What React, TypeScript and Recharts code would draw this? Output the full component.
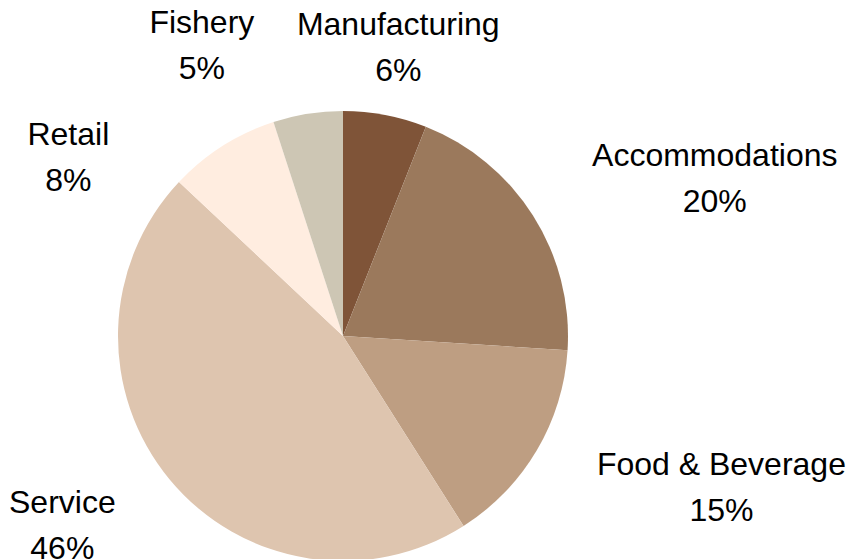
import { Cell, Pie, PieChart } from "recharts";

const sectors = ["Manufacturing", "Accommodations", "Food & Beverage", "Service", "Retail", "Fishery"];
const shares = [6, 20, 15, 46, 8, 5];
const sectorColors = ["#7F5438", "#9B795C", "#BE9E82", "#DEC5AF", "#FFEDE0", "#CDC6B4"];

const data = sectors.map((name, i) => ({ name, value: shares[i] }));

const W = 852;
const H = 559;
const CX = 343;
const CY = 336;
const RADIUS = 225;
const FONT = "'Liberation Sans', Arial, sans-serif";
const FONT_SIZE = 32;
const LABEL_R = 295;
const GAP = 42;
const BOX_H = 69;

function textWidth(s: string) {
  try {
    const ctx = document.createElement("canvas").getContext("2d");
    if (ctx) {
      ctx.font = `${FONT_SIZE}px ${FONT}`;
      return ctx.measureText(s).width;
    }
  } catch (e) {}
  return s.length * FONT_SIZE * 0.55;
}

type Box = { x: number; y: number; w: number };

// excel-ish outside-end labels, nudged apart when they collide
function layoutLabels(): Box[] {
  const total = shares.reduce((a, b) => a + b, 0);
  let acc = 0;
  const items = shares.map((v, i) => {
    let mid = ((acc + v / 2) / total) * 360;
    acc += v;
    if (mid > 180) mid -= 360;
    const w = Math.max(textWidth(sectors[i]), textWidth(`${v}%`));
    return { i, theta: mid, w };
  });

  const place = (theta: number, w: number) => {
    const rad = (theta * Math.PI) / 180;
    const ux = Math.sin(rad);
    const uy = -Math.cos(rad);
    const g = Math.min(1, Math.max(0, (Math.abs(ux) - 0.2) / 0.35));
    return { x: CX + LABEL_R * ux + Math.sign(ux) * g * (w / 2), y: CY + LABEL_R * uy, w, ux };
  };

  const hits = (a: Box, b: Box) =>
    Math.abs(a.x - b.x) < (a.w + b.w) / 2 + GAP && Math.abs(a.y - b.y) < BOX_H + GAP;

  const order = [
    ...items.filter((d) => d.theta >= 0).sort((a, b) => a.theta - b.theta),
    ...items.filter((d) => d.theta < 0).sort((a, b) => b.theta - a.theta),
  ];

  const placed: Box[] = [];
  const out: Box[] = new Array(items.length);
  for (const it of order) {
    let p = place(it.theta, it.w);
    const dir = it.theta < 0 ? -1 : 1;
    if (Math.abs(p.ux) < 0.3) {
      // near the top: slide sideways
      let guard = 0;
      while (placed.some((q) => hits(p, q)) && guard++ < 600) p = { ...p, x: p.x + dir };
    } else {
      // on the sides: walk round the pie
      let t = it.theta;
      let guard = 0;
      while (placed.some((q) => hits(p, q)) && guard++ < 400) {
        t += dir * 0.5;
        p = place(t, it.w);
      }
    }
    placed.push(p);
    out[it.i] = p;
  }
  return out;
}

export default function App() {
  const boxes = layoutLabels();

  const renderLabel = (props: any) => {
    const b = boxes[props.index];
    if (!b) return null;
    return (
      <text
        key={`lbl-${props.index}`}
        x={b.x}
        y={b.y}
        textAnchor="middle"
        fontFamily={FONT}
        fontSize={FONT_SIZE}
        fill="#000"
      >
        <tspan x={b.x} y={b.y - 11.5}>
          {sectors[props.index]}
        </tspan>
        <tspan x={b.x} y={b.y + 34.5}>
          {`${shares[props.index]}%`}
        </tspan>
      </text>
    );
  };

  return (
    <div style={{ position: "absolute", left: 0, top: 0, width: W, height: H, background: "#fff" }}>
      <PieChart width={W} height={H} margin={{ top: 0, right: 0, bottom: 0, left: 0 }}>
        <Pie
          data={data}
          dataKey="value"
          nameKey="name"
          cx={CX}
          cy={CY}
          outerRadius={RADIUS}
          startAngle={90}
          endAngle={-270}
          stroke="none"
          label={renderLabel}
          labelLine={false}
          isAnimationActive={false}
        >
          {data.map((_, i) => (
            <Cell key={i} fill={sectorColors[i]} />
          ))}
        </Pie>
      </PieChart>
    </div>
  );
}
